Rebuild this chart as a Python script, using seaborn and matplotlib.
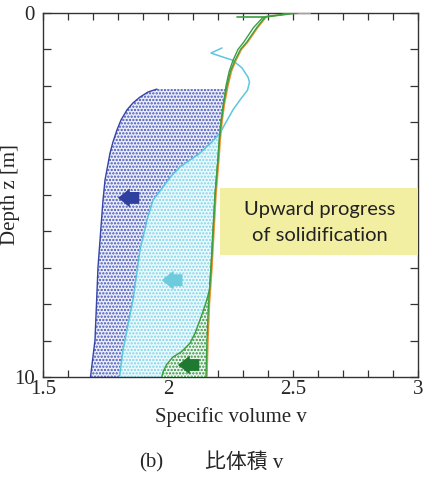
import numpy as np
import matplotlib
matplotlib.use('Agg')
import matplotlib.pyplot as plt
import seaborn as sns

# base profile (orange / green), depth z [m] vs specific volume v
base_z = [0.0, 0.1, 0.4, 0.8, 1.0, 1.3, 1.6, 2.0, 2.5, 3.0, 3.5, 4.0, 5.0, 6.0, 7.0, 8.0, 9.0, 10.0]
base_v = [2.50, 2.39, 2.355, 2.315, 2.29, 2.268, 2.25, 2.236, 2.222, 2.212, 2.205, 2.2, 2.188, 2.18, 2.172, 2.162, 2.156, 2.152]
# second green line near the surface
green2_z = [0.0, 0.12, 0.4, 0.8, 1.0, 1.3, 1.6, 2.0, 2.5]
green2_v = [2.52, 2.38, 2.342, 2.303, 2.28, 2.26, 2.245, 2.232, 2.222]
# short horizontal green piece at the top
gtop_z = [0.1, 0.1]
gtop_v = [2.276, 2.39]
# orange top end
orange_top_z = [0.0, 0.0]
orange_top_v = [2.50, 2.57]

# cyan curve
cyan_z = [0.96, 1.10, 1.20, 1.29, 1.50, 1.76, 1.90, 2.12, 2.39, 2.66, 3.00, 3.30, 3.54, 3.85, 4.04, 4.23, 4.50, 4.78, 5.14, 5.69, 6.51, 7.88, 9.26, 10.0]
cyan_v = [2.216, 2.172, 2.215, 2.256, 2.295, 2.32, 2.326, 2.318, 2.288, 2.26, 2.232, 2.208, 2.176, 2.128, 2.088, 2.048, 2.01, 1.98, 1.94, 1.916, 1.888, 1.86, 1.82, 1.806]
# blue curve
blue_z = [2.09, 2.09, 2.17, 2.31, 2.47, 2.66, 2.94, 3.21, 3.54, 3.85, 4.59, 5.14, 6.98, 8.98, 10.0]
blue_v = [2.228, 1.956, 1.92, 1.888, 1.86, 1.836, 1.812, 1.796, 1.78, 1.768, 1.748, 1.74, 1.72, 1.708, 1.69]
# green branch near the bottom
gbr_z = [7.61, 8.00, 8.43, 8.80, 9.07, 9.30, 9.45, 9.65, 9.86, 10.0]
gbr_v = [2.166, 2.15, 2.128, 2.108, 2.088, 2.055, 2.02, 1.995, 1.98, 1.975]

# arrows: (v_tail, v_head, z, colour)
arrows = [(1.885, 1.80, 5.08, '#2f3f9f'), (2.058, 1.975, 7.34, '#6ccbdc'), (2.125, 2.04, 9.67, '#1f7a30')]

sns.set_style('ticks')
plt.rcParams['font.family'] = ['Liberation Serif', 'Noto Sans CJK JP']
plt.rcParams['hatch.linewidth'] = 1.1

fig = plt.figure(figsize=(4.23, 4.79), dpi=100)
ax = fig.add_axes([43/423, 1-377/479, 375/423, 364/479])

bz = np.array(base_z); bv = np.array(base_v)

def region(cv, cz, zmin):
  m = bz >= zmin
  xs = np.concatenate([cv, bv[m][::-1]])
  ys = np.concatenate([cz, bz[m][::-1]])
  return xs, ys

# blue region
xs, ys = region(blue_v[1:], blue_z[1:], blue_z[0])
xs = np.concatenate([[blue_v[0]], xs]); ys = np.concatenate([[blue_z[0]], ys])
ax.fill(xs, ys, facecolor='#eceefa', edgecolor='#4253b8', hatch='.....', linewidth=0, zorder=1)
# cyan region (only where cyan is left of base)
cz = np.array(cyan_z); cv = np.array(cyan_v)
m = cz >= 3.3
xs, ys = region(cv[m], cz[m], 3.3)
ax.fill(xs, ys, facecolor='#eefafd', edgecolor='#7dd4e8', hatch='.....', linewidth=0, zorder=2)
# green region
xs, ys = region(gbr_v, gbr_z, gbr_z[0])
ax.fill(xs, ys, facecolor='#eef7ef', edgecolor='#2f9040', hatch='.....', linewidth=0, zorder=3)

# lines
sns.lineplot(x=blue_v[1:], y=blue_z[1:], sort=False, color='#3545a8', lw=1.0, ax=ax, zorder=4)
sns.lineplot(x=cyan_v, y=cyan_z, sort=False, color='#5cc6e0', lw=1.1, ax=ax, zorder=4)
sns.lineplot(x=np.array(base_v)+0.004, y=base_z, sort=False, color='#f39030', lw=1.1, ax=ax, zorder=5)
sns.lineplot(x=orange_top_v, y=orange_top_z, sort=False, color='#f39030', lw=1.5, ax=ax, zorder=5)
sns.lineplot(x=base_v, y=base_z, sort=False, color='#3aa040', lw=1.0, ax=ax, zorder=6)
mid = (bz > 2.5) & (bz < 7.61)
g2v = list(green2_v) + list(bv[mid]) + list(gbr_v)
g2z = list(green2_z) + list(bz[mid]) + list(gbr_z)
sns.lineplot(x=g2v, y=g2z, sort=False, color='#3aa040', lw=1.0, ax=ax, zorder=6)
sns.lineplot(x=gtop_v, y=gtop_z, sort=False, color='#3aa040', lw=1.2, ax=ax, zorder=6)

for vt, vh, z, col in arrows:
  ax.annotate('', xy=(vh, z), xytext=(vt, z),
    arrowprops=dict(arrowstyle='simple,head_length=0.5,head_width=0.8,tail_width=0.5',
                    mutation_scale=17, shrinkA=0, shrinkB=0, color=col, lw=0), zorder=7)

ax.set_xlim(1.5, 3)
ax.set_ylim(10, 0)
ax.set_xticks([1.5, 2, 2.5, 3])
ax.set_xticklabels(['1.5', '2', '2.5', '3'])
ax.set_xticks(np.arange(1.5, 3.01, 0.1), minor=True)
ax.set_yticks(range(0, 11))
ax.set_yticklabels(['0'] + ['']*9 + ['10'])
ax.tick_params(which='both', direction='in', top=True, right=True, labelsize=15, width=0.9, color='#333')
ax.tick_params(axis='x', which='both', length=5, pad=2)
ax.tick_params(axis='y', which='both', length=6, pad=6)
for s in ax.spines.values():
  s.set_linewidth(1.0)
  s.set_color('#333')
  s.set_visible(True)
ax.set_xlabel('Specific volume v', fontsize=15, labelpad=6)
ax.set_ylabel('Depth z [m]', fontsize=15)
ax.yaxis.set_label_coords(-0.062, 0.5)

# yellow annotation box
fig.patches.append(matplotlib.patches.Rectangle((220/423, 1-255/479), 198/423, 67/479,
  transform=fig.transFigure, facecolor='#f3efa2', edgecolor='none', zorder=8))
fig.text(320/423, 1-210/479, 'Upward progress', family='Lato', fontsize=14.5, color='#222',
  ha='center', va='center', zorder=9)
fig.text(320/423, 1-235/479, 'of solidification', family='Lato', fontsize=14.5, color='#222',
  ha='center', va='center', zorder=9)

fig.text(163/423, 1-463/479, '(b)', fontsize=15, ha='right', va='center')
fig.text(205/423, 1-463/479, '比体積 v', fontsize=15, ha='left', va='center')

fig.savefig('out.png', dpi=100)
